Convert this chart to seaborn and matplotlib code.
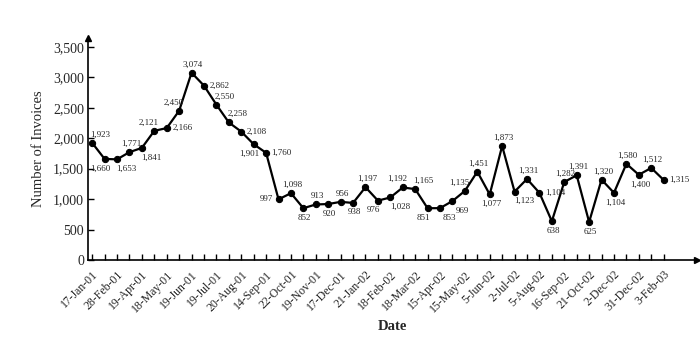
import seaborn as sns
import matplotlib.pyplot as plt
import pandas as pd

# invoice counts, one per reporting date (labels on every other point)
invoices = [1923, 1660, 1653, 1771, 1841, 2121, 2166, 2450, 3074, 2862,
            2550, 2258, 2108, 1901, 1760, 997, 1098, 852, 913, 920,
            956, 938, 1197, 976, 1028, 1192, 1165, 851, 853, 969,
            1135, 1451, 1077, 1873, 1123, 1331, 1104, 638, 1282, 1391,
            625, 1320, 1104, 1580, 1400, 1512, 1315]
date_labels = ['17-Jan-01', '28-Feb-01', '19-Apr-01', '18-May-01', '19-Jun-01',
               '19-Jul-01', '20-Aug-01', '14-Sep-01', '22-Oct-01', '19-Nov-01',
               '17-Dec-01', '21-Jan-02', '18-Feb-02', '18-Mar-02', '15-Apr-02',
               '15-May-02', '5-Jun-02', '2-Jul-02', '5-Aug-02', '16-Sep-02',
               '21-Oct-02', '2-Dec-02', '31-Dec-02', '3-Feb-03']
y_ticks = [0, 500, 1000, 1500, 2000, 2500, 3000, 3500]

# where each value label sits relative to its point
label_side = ['ar', 'bl', 'br', 'a', 'br', 'al', 'r', 'al', 'a', 'r',
              'ar', 'ar', 'r', 'bl', 'r', 'l', 'a', 'b', 'a', 'b',
              'a', 'b', 'a', 'bl', 'br', 'al', 'ar', 'bl', 'br', 'br',
              'al', 'a', 'b', 'a', 'br', 'a', 'r', 'b', 'a', 'a',
              'b', 'a', 'b', 'a', 'b', 'a', 'r']
offsets = {'a': ((1, 3), 'center', 'bottom'), 'b': ((1, -4), 'center', 'top'),
           'al': ((-4, 3), 'center', 'bottom'), 'ar': ((6, 3), 'center', 'bottom'),
           'bl': ((-3, -4), 'center', 'top'), 'br': ((7, -4), 'center', 'top'),
           'l': ((-4, 0), 'right', 'center'), 'r': ((4, 0), 'left', 'center')}

df = pd.DataFrame({'idx': range(len(invoices)), 'invoices': invoices})

sns.set_style('white')
plt.rcParams['font.family'] = ['Liberation Serif', 'DejaVu Serif']

fig = plt.figure(figsize=(7, 3.45), dpi=100)
ax = fig.add_axes([0.126, 0.246, 0.87, 0.645])

sns.lineplot(data=df, x='idx', y='invoices', ax=ax, color='black',
             linewidth=1.6, marker='o', markersize=4.5,
             markeredgecolor='black', markerfacecolor='black')

n = len(invoices)
for i, v in enumerate(invoices):
    off, ha, va = offsets[label_side[i]]
    ax.annotate(f'{v:,}', (i, v), xytext=off, textcoords='offset points',
                ha=ha, va=va, fontsize=6.5)

ax.set_xlim(-0.32, 48.7)
ax.set_ylim(0, 3650)
ax.set_xticks(range(n))
ax.set_xticklabels([date_labels[i // 2] if i % 2 == 0 else '' for i in range(n)],
                   rotation=45, ha='right', rotation_mode='anchor', fontsize=8.5)
ax.set_yticks(y_ticks)
ax.set_yticklabels([f'{t:,}' for t in y_ticks], fontsize=10)
ax.tick_params(axis='both', direction='in', length=4, width=1, color='black',
               bottom=True, left=True, pad=3)
ax.tick_params(axis='x', pad=6)

for side in ['top', 'right']:
    ax.spines[side].set_visible(False)
for side in ['bottom', 'left']:
    ax.spines[side].set_color('black')
    ax.spines[side].set_linewidth(1.2)

# axis arrows
ax.plot(1, 0, '>k', markersize=5, transform=ax.transAxes, clip_on=False)
ax.plot(0, 1, '^k', markersize=5, transform=ax.transAxes, clip_on=False)

ax.set_xlabel('Date', fontsize=10.5, fontweight='bold', labelpad=4)
ax.set_ylabel('Number of Invoices', fontsize=10.5, labelpad=6)

fig.savefig('out.png', dpi=100)
